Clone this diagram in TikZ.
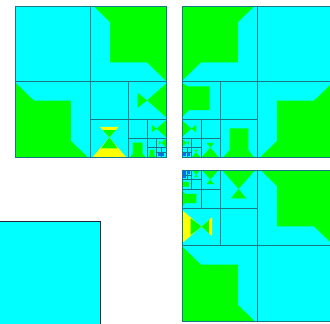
\documentclass[tikz,border=0pt]{standalone}
\definecolor{cy}{RGB}{0,255,255}
\definecolor{gr}{RGB}{0,255,0}
\definecolor{ye}{RGB}{255,255,0}
\definecolor{bl}{RGB}{0,110,255}
\definecolor{ln}{RGB}{20,120,135}
\definecolor{dk}{RGB}{30,40,60}
\tikzset{gridline/.style={draw=ln,line width=0.35pt}}
% orientations
\newcommand\oid{\def\P##1##2{(##1,##2)}}
\newcommand\omx{\def\P##1##2{({1-##1},##2)}}
\newcommand\otr{\def\P##1##2{(##2,##1)}}
\newcommand\orA{\def\P##1##2{(##2,{1-##1})}}
\newcommand\orB{\def\P##1##2{({1-##2},##1)}}
% shapes
\newcommand\shBase{%
 \fill[gr] \P{0.52}{0} -- \P{1}{0} -- \P{1}{0.495} -- \P{0.874}{0.373} -- \P{0.63}{0.373} -- \P{0.63}{0.107} -- cycle;
 \fill[gr] \P{0.48}{1} -- \P{0}{1} -- \P{0}{0.505} -- \P{0.126}{0.627} -- \P{0.37}{0.627} -- \P{0.37}{0.893} -- cycle;}
\newcommand\shBow{%
 \fill[gr] \P{0.25}{0.3} -- \P{0.25}{0.7} -- \P{0.5}{0.5} -- cycle;
 \fill[gr] \P{0.5}{0.5} -- \P{1}{0.06} -- \P{1}{0.94} -- cycle;}
\newcommand\shHour{%
 \fill[ye] \P{0.25}{0.2} -- \P{0.75}{0.2} -- \P{0.5}{0.48} -- cycle;
 \fill[gr] \P{0.33}{0.29} -- \P{0.67}{0.29} -- \P{0.5}{0.48} -- cycle;
 \fill[ye] \P{0.5}{0.48} -- \P{0.94}{1} -- \P{0.06}{1} -- cycle;
 \fill[gr] \P{0.5}{0.48} -- \P{0.72}{0.77} -- \P{0.28}{0.77} -- cycle;}
\newcommand\shBump{%
 \fill[gr] \P{0.26}{0.24} -- \P{0.76}{0.24} -- \P{0.76}{0.82} -- \P{0.9}{1} -- \P{0.1}{1} -- \P{0.26}{0.82} -- cycle;}
\newcommand\shFlag{%
 \fill[gr] \P{0}{0.03} -- \P{0.15}{0.13} -- \P{0.73}{0.13} -- \P{0.73}{0.76} -- \P{0.18}{0.76} -- \P{0}{0.95} -- cycle;}
\begin{document}
\begin{tikzpicture}[x=1pt,y=-1pt]
\useasboundingbox (0,0) rectangle (330,324);
% ---------- square 1 ----------
\begin{scope}[shift={(15,6)},scale=151]
 \fill[cy] (0,0) rectangle (1,1);
 \oid\shBase
 \begin{scope}[shift={(0.75,0.5)},scale=0.25]\oid\shBow\end{scope}
 \begin{scope}[shift={(0.5,0.75)},scale=0.25]\oid\shHour\end{scope}
 \begin{scope}[shift={(0.875,0.75)},scale=0.125]\oid\shBow\end{scope}
 \begin{scope}[shift={(0.75,0.875)},scale=0.125]\oid\shBump\end{scope}
 \begin{scope}[shift={(0.9375,0.875)},scale=0.0625]\oid\shBow\end{scope}
 \begin{scope}[shift={(0.875,0.9375)},scale=0.0625]\oid\shBump\end{scope}
 \fill[bl] (0.945,0.972) rectangle (0.968,0.995);
 \fill[bl] (0.972,0.975) rectangle (0.99,0.992);
 \draw[gridline] (0,0) rectangle (1,1);
 \draw[gridline] (0.5,0) -- (0.5,1) (0,0.5) -- (1,0.5);
 \draw[gridline] (0.75,0.5) -- (0.75,1) (0.5,0.75) -- (1,0.75);
 \draw[gridline] (0.875,0.75) -- (0.875,1) (0.75,0.875) -- (1,0.875);
 \draw[gridline] (0.9375,0.875) -- (0.9375,1) (0.875,0.9375) -- (1,0.9375);
 \draw[gridline] (0.96875,0.9375) -- (0.96875,1) (0.9375,0.96875) -- (1,0.96875);
\end{scope}
% ---------- square 2 ----------
\begin{scope}[shift={(182,6)},scale=151]
 \fill[cy] (0,0) rectangle (1,1);
 \omx\shBase
 \begin{scope}[shift={(0,0.5)},scale=0.25]\oid\shFlag\end{scope}
 \begin{scope}[shift={(0.25,0.75)},scale=0.25]\oid\shBump\end{scope}
 \begin{scope}[shift={(0,0.75)},scale=0.125]\omx\shBow\end{scope}
 \begin{scope}[shift={(0.125,0.875)},scale=0.125]\otr\shBow\end{scope}
 \begin{scope}[shift={(0,0.875)},scale=0.0625]\omx\shBow\end{scope}
 \begin{scope}[shift={(0.0625,0.9375)},scale=0.0625]\otr\shBow\end{scope}
 \fill[bl] (0.005,0.972) rectangle (0.028,0.995);
 \fill[bl] (0.034,0.975) rectangle (0.055,0.992);
 \draw[gridline] (0,0) rectangle (1,1);
 \draw[gridline] (0.5,0) -- (0.5,1) (0,0.5) -- (1,0.5);
 \draw[gridline] (0.25,0.5) -- (0.25,1) (0,0.75) -- (0.5,0.75);
 \draw[gridline] (0.125,0.75) -- (0.125,1) (0,0.875) -- (0.25,0.875);
 \draw[gridline] (0.0625,0.875) -- (0.0625,1) (0,0.9375) -- (0.125,0.9375);
 \draw[gridline] (0.03125,0.9375) -- (0.03125,1) (0,0.96875) -- (0.0625,0.96875);
\end{scope}
% ---------- square 3 ----------
\begin{scope}[shift={(182,170)},scale=151]
 \fill[cy] (0,0) rectangle (1,1);
 \oid\shBase
 \begin{scope}[shift={(0.25,0)},scale=0.25]\orA\shBow\end{scope}
 \begin{scope}[shift={(0,0.25)},scale=0.25]\orB\shHour\end{scope}
 \begin{scope}[shift={(0.125,0)},scale=0.125]\orA\shBow\end{scope}
 \begin{scope}[shift={(0,0.125)},scale=0.125]\orB\shBump\end{scope}
 \begin{scope}[shift={(0.0625,0)},scale=0.0625]\orA\shBow\end{scope}
 \begin{scope}[shift={(0,0.0625)},scale=0.0625]\orB\shBump\end{scope}
 \fill[bl] (0.005,0.005) rectangle (0.028,0.05);
 \fill[bl] (0.034,0.008) rectangle (0.055,0.028);
 \draw[gridline] (0,0) rectangle (1,1);
 \draw[gridline] (0.5,0) -- (0.5,1) (0,0.5) -- (1,0.5);
 \draw[gridline] (0.25,0) -- (0.25,0.5) (0,0.25) -- (0.5,0.25);
 \draw[gridline] (0.125,0) -- (0.125,0.25) (0,0.125) -- (0.25,0.125);
 \draw[gridline] (0.0625,0) -- (0.0625,0.125) (0,0.0625) -- (0.125,0.0625);
 \draw[gridline] (0.03125,0) -- (0.03125,0.0625) (0,0.03125) -- (0.0625,0.03125);
\end{scope}
% ---------- square 4 ----------
\fill[cy,draw=dk,line width=1pt] (-5,221) rectangle (100,330);
\end{tikzpicture}
\end{document}
